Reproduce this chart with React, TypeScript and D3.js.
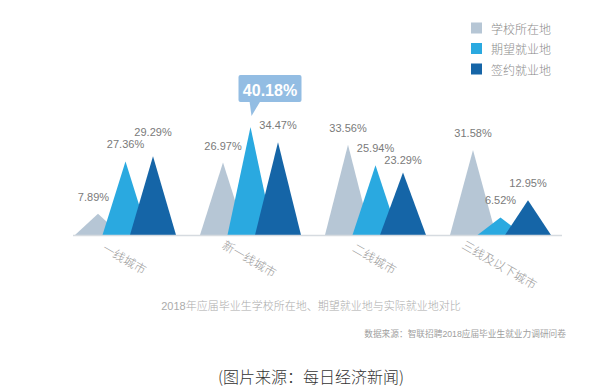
import React from "react";
import * as d3 from "d3";

const categories = ["一线城市", "新一线城市", "二线城市", "三线及以下城市"];
const seriesNames = ["学校所在地", "期望就业地", "签约就业地"];
const schoolLoc = [7.89, 26.97, 33.56, 31.58];
const expectedLoc = [27.36, 40.18, 25.94, 6.52];
const signedLoc = [29.29, 34.47, 23.29, 12.95];
const colors = ["#b6c6d5", "#2aa9e0", "#1565a7"];
const caption = "2018年应届毕业生学校所在地、期望就业地与实际就业地对比";
const sourceText = "数据来源：智联招聘2018应届毕业生就业力调研问卷";
const footer = "(图片来源：每日经济新闻)";

const FONT = "'Liberation Sans', Arial, 'Noto Sans CJK SC', sans-serif";

export default function App() {
  const W = 612;
  const H = 391;
  const baseY = 235;
  const x = d3.scalePoint<string>().domain(categories).range([125, 500]);
  const y = d3.scaleLinear().domain([0, 100]).range([baseY, baseY - 268.8]);
  const offsets = d3.scalePoint<string>().domain(seriesNames).range([-27, 28]);
  const hw = 23;
  const series = [schoolLoc, expectedLoc, signedLoc];
  const maxVal = d3.max(series.flat()) as number;
  const labelW = 32;
  const lineGap = 12;

  const tri = (cx: number, v: number) => {
    const p = d3.path();
    p.moveTo(cx - hw, baseY);
    p.lineTo(cx, y(v));
    p.lineTo(cx + hw, baseY);
    p.closePath();
    return p.toString();
  };

  const marks: React.ReactNode[] = [];
  const labels: React.ReactNode[] = [];
  let callout: React.ReactNode = null;
  categories.forEach((c, gi) => {
    const pts = seriesNames.map((s, si) => {
      const v = series[si][gi];
      const cx = (x(c) as number) + (offsets(s) as number);
      return { v, cx, si };
    });
    // label placement: centered above peak, with collision nudges
    const lab = pts.map((p) => ({ ...p, lx: p.cx, ly: y(p.v) - 17 }));
    lab.forEach((l, i) => {
      // keep clear of the next triangle's left edge
      const nxt = lab[i + 1];
      if (nxt) {
        const top = y(nxt.v);
        if (l.ly > top) {
          const edge = nxt.cx - hw + (hw * (baseY - l.ly)) / (baseY - top);
          const right = l.lx + labelW / 2;
          if (right > edge - 5) l.lx -= right - (edge - 5);
        }
      }
      // separate vertically from the previous label
      const prv = lab[i - 1];
      if (prv && prv.v !== maxVal && Math.abs(l.lx - prv.lx) < labelW + 4) {
        const d = l.ly - prv.ly;
        if (Math.abs(d) < lineGap) l.ly = prv.ly + (d < 0 ? -lineGap : lineGap);
      }
    });

    lab.forEach((l) => {
      marks.push(<path key={`t${gi}-${l.si}`} d={tri(l.cx, l.v)} fill={colors[l.si]} />);
      if (l.v === maxVal) {
        const py = y(l.v);
        const bx = l.cx - 12;
        const by = py - 52;
        const bw = 63;
        const bh = 27;
        callout = (
          <g key="callout">
            <rect x={bx} y={by} width={bw} height={bh} rx={2} fill="#93bde3" />
            <path
              d={`M${l.cx - 1},${by + bh - 1} L${l.cx + 10},${by + bh - 1} L${l.cx + 1},${py - 11} Z`}
              fill="#93bde3"
            />
            <text
              x={bx + bw / 2}
              y={by + 21}
              textAnchor="middle"
              fontSize={16}
              fontWeight="bold"
              fill="#ffffff"
              fontFamily={FONT}
            >
              {l.v.toFixed(2)}%
            </text>
          </g>
        );
      } else {
        labels.push(
          <text
            key={`l${gi}-${l.si}`}
            x={l.lx}
            y={l.ly + 4}
            textAnchor="middle"
            fontSize={11}
            fill="#7a7a7a"
            fontFamily={FONT}
          >
            {l.v.toFixed(2)}%
          </text>
        );
      }
    });
  });

  return (
    <svg
      width={W}
      height={H}
      style={{ position: "absolute", left: 0, top: 0, background: "#fff" }}
      fontFamily={FONT}
    >
      <rect x={0} y={0} width={W} height={H} fill="#ffffff" />
      {marks}
      <line x1={73} x2={562} y1={baseY + 0.5} y2={baseY + 0.5} stroke="#d6dbe0" strokeWidth={1.5} />
      {labels}
      {callout}
      {categories.map((c) => (
        <text
          key={`c-${c}`}
          transform={`translate(${x(c) as number},${c.length > 5 ? 264 : 258}) rotate(30)`}
          textAnchor="middle"
          dominantBaseline="central"
          fontSize={12}
          fill="#9a9a9a"
          fontFamily="'Noto Sans CJK SC', sans-serif"
          fontWeight={300}
        >
          {c}
        </text>
      ))}
      {seriesNames.map((s, i) => (
        <g key={`lg-${s}`} transform={`translate(471,${28 + i * 20.5})`}>
          <rect x={0} y={-5.5} width={11} height={11} fill={colors[i]} />
          <text
            x={20}
            y={0}
            dominantBaseline="central"
            fontSize={12}
            fill="#8a8a8a"
            fontFamily="'Noto Sans CJK SC', sans-serif"
            fontWeight={300}
          >
            {s}
          </text>
        </g>
      ))}
      <text
        x={311}
        y={306}
        textAnchor="middle"
        dominantBaseline="central"
        fontSize={11}
        fill="#ababab"
        fontWeight={300}
      >
        {caption}
      </text>
      <text x={566} y={334} textAnchor="end" dominantBaseline="central" fontSize={8.7} fill="#9e9e9e">
        {sourceText}
      </text>
      <text
        x={311}
        y={376}
        textAnchor="middle"
        dominantBaseline="central"
        fontSize={16}
        fill="#333333"
        fontFamily="'Noto Sans CJK SC', sans-serif"
        fontWeight={300}
      >
        {footer}
      </text>
    </svg>
  );
}
